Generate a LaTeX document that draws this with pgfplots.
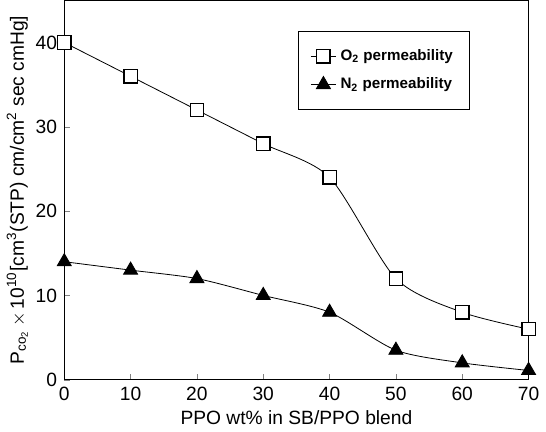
\documentclass[border=0pt]{standalone}
\usepackage{fontspec}
\setmainfont{Liberation Sans}
\usepackage{pgfplots}
\pgfplotsset{compat=1.18}

\begin{document}
\begin{tikzpicture}
\begin{axis}[
    scale only axis,
    width=229.5pt, height=187.5pt,
    xmin=0, xmax=70, ymin=0, ymax=45,
    xtick={0,10,...,70}, ytick={0,10,...,40},
    tick align=inside, xtick pos=bottom, ytick pos=left,
    major tick length=3pt,
    tick label style={font=\fontsize{9.5}{11}\selectfont},
    /pgf/number format/assume math mode=true,
    xlabel={PPO wt\% in SB/PPO blend},
    ylabel={P\textsubscript{co\textsubscript{2}}\,$\times$\,10\textsuperscript{10}[cm\textsuperscript{3}(STP) cm/cm\textsuperscript{2} sec cmHg]},
    label style={font=\fontsize{9.5}{11}\selectfont},
    xlabel style={yshift=2pt},
    ylabel style={yshift=-3pt},
    clip=false,
    legend style={at={(0.503,0.92)}, anchor=north west, draw=black,
        font=\bfseries\fontsize{7.5}{9}\selectfont,
        inner xsep=6pt, inner ysep=7pt, row sep=3pt},
    legend cell align=left,
    legend image code/.code={
        \draw[#1, mark repeat=2, mark phase=2] plot coordinates {(0cm,0cm) (0.22cm,0cm) (0.44cm,0cm)};},
]
\addplot[black, thin, smooth, tension=0.45, mark=square*, mark size=3.3pt,
    mark options={fill=white, draw=black, solid, semithick}]
    coordinates {(0,40) (10,36) (20,32) (30,28) (40,24) (50,12) (60,8) (70,6)};
\addlegendentry{O\textsubscript{2} permeability}
\addplot[black, thin, smooth, tension=0.45, mark=triangle*, mark size=4pt,
    mark options={fill=black}]
    coordinates {(0,14) (10,13) (20,12) (30,10) (40,8) (50,3.5) (60,2) (70,1.1)};
\addlegendentry{N\textsubscript{2} permeability}
\end{axis}
\end{tikzpicture}
\end{document}
